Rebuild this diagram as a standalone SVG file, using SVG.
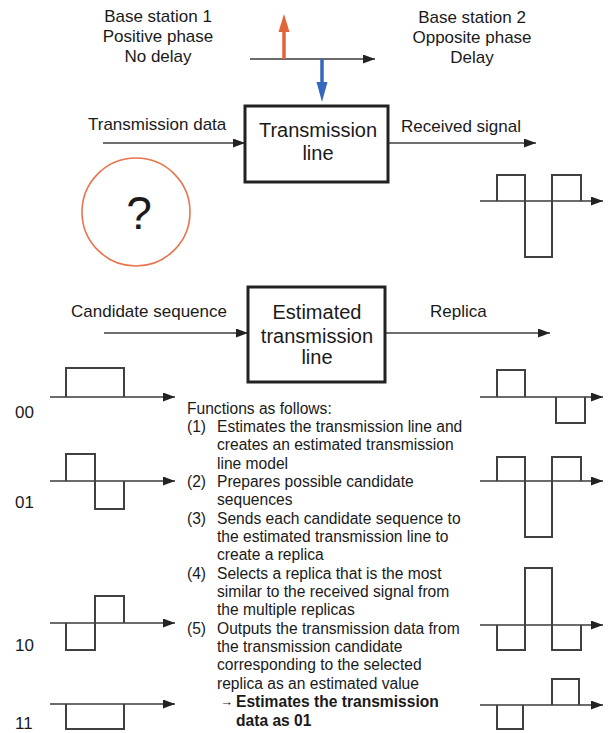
<svg xmlns="http://www.w3.org/2000/svg" width="611" height="733" viewBox="0 0 611 733">
<style>
  text { font-family: "Liberation Sans", Arial, sans-serif; fill: #1a1a1a; }
  .lbl { font-size: 17px; }
  .mid { text-anchor: middle; }
  .box { fill: #fff; stroke: #222; stroke-width: 3; }
  .boxtxt { font-size: 20px; text-anchor: middle; }
  .conn { stroke: #6e6e6e; stroke-width: 2; fill: none; marker-end: url(#ah); }
  .axis { stroke: #3a3a3a; stroke-width: 1.5; fill: none; marker-end: url(#ah); }
  .pulse { stroke: #404040; stroke-width: 2; fill: none; }
  .body { font-size: 15.6px; }
  .bold { font-size: 15.6px; font-weight: bold; }
</style>
<defs>
  <marker id="ah" markerUnits="userSpaceOnUse" markerWidth="13" markerHeight="10" refX="12" refY="4.5" orient="auto">
    <path d="M0,0 L12,4.5 L0,9 Z" fill="#222"/>
  </marker>
</defs>

<g id="labels-top">
  <text class="lbl mid" x="158" y="22">Base station 1</text>
  <text class="lbl mid" x="158" y="42">Positive phase</text>
  <text class="lbl mid" x="158" y="62">No delay</text>
  <text class="lbl mid" x="472" y="23">Base station 2</text>
  <text class="lbl mid" x="472" y="43">Opposite phase</text>
  <text class="lbl mid" x="472" y="63">Delay</text>
</g>

<g id="phase-axis">
  <line class="axis" x1="250" y1="59" x2="375" y2="59"/>
  <line x1="284" y1="59" x2="284" y2="30" stroke="#E2643A" stroke-width="3.5"/>
  <polygon points="278.5,32 289.5,32 284,14" fill="#E2643A"/>
  <line x1="322" y1="59" x2="322" y2="84" stroke="#3467C0" stroke-width="3.5"/>
  <polygon points="316.5,82 327.5,82 322,102" fill="#3467C0"/>
</g>

<g id="connectors">
  <line class="conn" x1="103" y1="143" x2="245" y2="143"/>
  <line class="conn" x1="388" y1="143" x2="536" y2="143"/>
  <line class="conn" x1="104" y1="333" x2="248" y2="333"/>
  <line class="conn" x1="385" y1="333" x2="550" y2="333"/>
</g>

<g id="connector-labels">
  <text class="lbl" x="88" y="130">Transmission data</text>
  <text class="lbl" x="401" y="132">Received signal</text>
  <text class="lbl" x="71" y="317">Candidate sequence</text>
  <text class="lbl" x="430" y="317">Replica</text>
</g>

<g id="node-transmission-line">
  <rect class="box" x="245" y="106" width="143" height="76"/>
  <text class="boxtxt" x="318" y="137">Transmission</text>
  <text class="boxtxt" x="318" y="160">line</text>
</g>

<g id="node-estimated-line">
  <rect class="box" x="248" y="287" width="137" height="95"/>
  <text class="boxtxt" x="317" y="319">Estimated</text>
  <text class="boxtxt" x="317" y="343">transmission</text>
  <text class="boxtxt" x="317" y="364">line</text>
</g>

<g id="node-unknown">
  <circle cx="136" cy="212" r="54" fill="none" stroke="#E8744E" stroke-width="1.6"/>
  <text x="139" y="229" font-size="46" text-anchor="middle">?</text>
</g>

<g id="received-waveform">
  <line class="axis" x1="480" y1="201" x2="603" y2="201"/>
  <path class="pulse" d="M497,201 V175 H525 V257 H552 V175 H581 V201"/>
</g>

<g id="candidates">
  <text class="lbl" x="15" y="418">00</text>
  <line class="axis" x1="50" y1="397" x2="175" y2="397"/>
  <path class="pulse" d="M66,397 V368 H124 V397"/>

  <text class="lbl" x="15" y="508">01</text>
  <line class="axis" x1="50" y1="481" x2="175" y2="481"/>
  <path class="pulse" d="M66,481 V454 H95 V509 H124 V481"/>

  <text class="lbl" x="15" y="651">10</text>
  <line class="axis" x1="50" y1="623" x2="175" y2="623"/>
  <path class="pulse" d="M66,623 V650 H95 V596 H124 V623"/>

  <text class="lbl" x="15" y="729">11</text>
  <line class="axis" x1="50" y1="704" x2="175" y2="704"/>
  <path class="pulse" d="M66,704 V729 H124 V704"/>
</g>

<g id="replicas">
  <line class="axis" x1="480" y1="397" x2="603" y2="397"/>
  <path class="pulse" d="M497,397 V370 H525 V397 M556,397 V423 H585 V397"/>

  <line class="axis" x1="480" y1="481" x2="603" y2="481"/>
  <path class="pulse" d="M497,481 V457 H525 V537 H552 V457 H581 V481"/>

  <line class="axis" x1="480" y1="625" x2="603" y2="625"/>
  <path class="pulse" d="M497,625 V650 H525 V568 H552 V650 H581 V625"/>

  <line class="axis" x1="480" y1="705" x2="603" y2="705"/>
  <path class="pulse" d="M497,705 V729 H523 V705 M552,705 V679 H579 V705"/>
</g>

<g id="description">
  <text class="body" x="187" y="413.5">Functions as follows:</text>
  <text class="body" x="187" y="431.9">(1)</text>
  <text class="body" x="217" y="431.9">Estimates the transmission line and</text>
  <text class="body" x="217" y="450.2">creates an estimated transmission</text>
  <text class="body" x="217" y="468.6">line model</text>
  <text class="body" x="187" y="486.9">(2)</text>
  <text class="body" x="217" y="486.9">Prepares possible candidate</text>
  <text class="body" x="217" y="505.3">sequences</text>
  <text class="body" x="187" y="523.6">(3)</text>
  <text class="body" x="217" y="523.6">Sends each candidate sequence to</text>
  <text class="body" x="217" y="542">the estimated transmission line to</text>
  <text class="body" x="217" y="560.3">create a replica</text>
  <text class="body" x="187" y="578.7">(4)</text>
  <text class="body" x="217" y="578.7">Selects a replica that is the most</text>
  <text class="body" x="217" y="597">similar to the received signal from</text>
  <text class="body" x="217" y="615.4">the multiple replicas</text>
  <text class="body" x="187" y="633.7">(5)</text>
  <text class="body" x="217" y="633.7">Outputs the transmission data from</text>
  <text class="body" x="217" y="652.1">the transmission candidate</text>
  <text class="body" x="217" y="670.4">corresponding to the selected</text>
  <text class="body" x="217" y="688.8">replica as an estimated value</text>
  <text x="220" y="706" font-size="13">→</text>
  <text class="bold" x="236" y="707.1">Estimates the transmission</text>
  <text class="bold" x="236" y="725.5">data as 01</text>
</g>
</svg>
